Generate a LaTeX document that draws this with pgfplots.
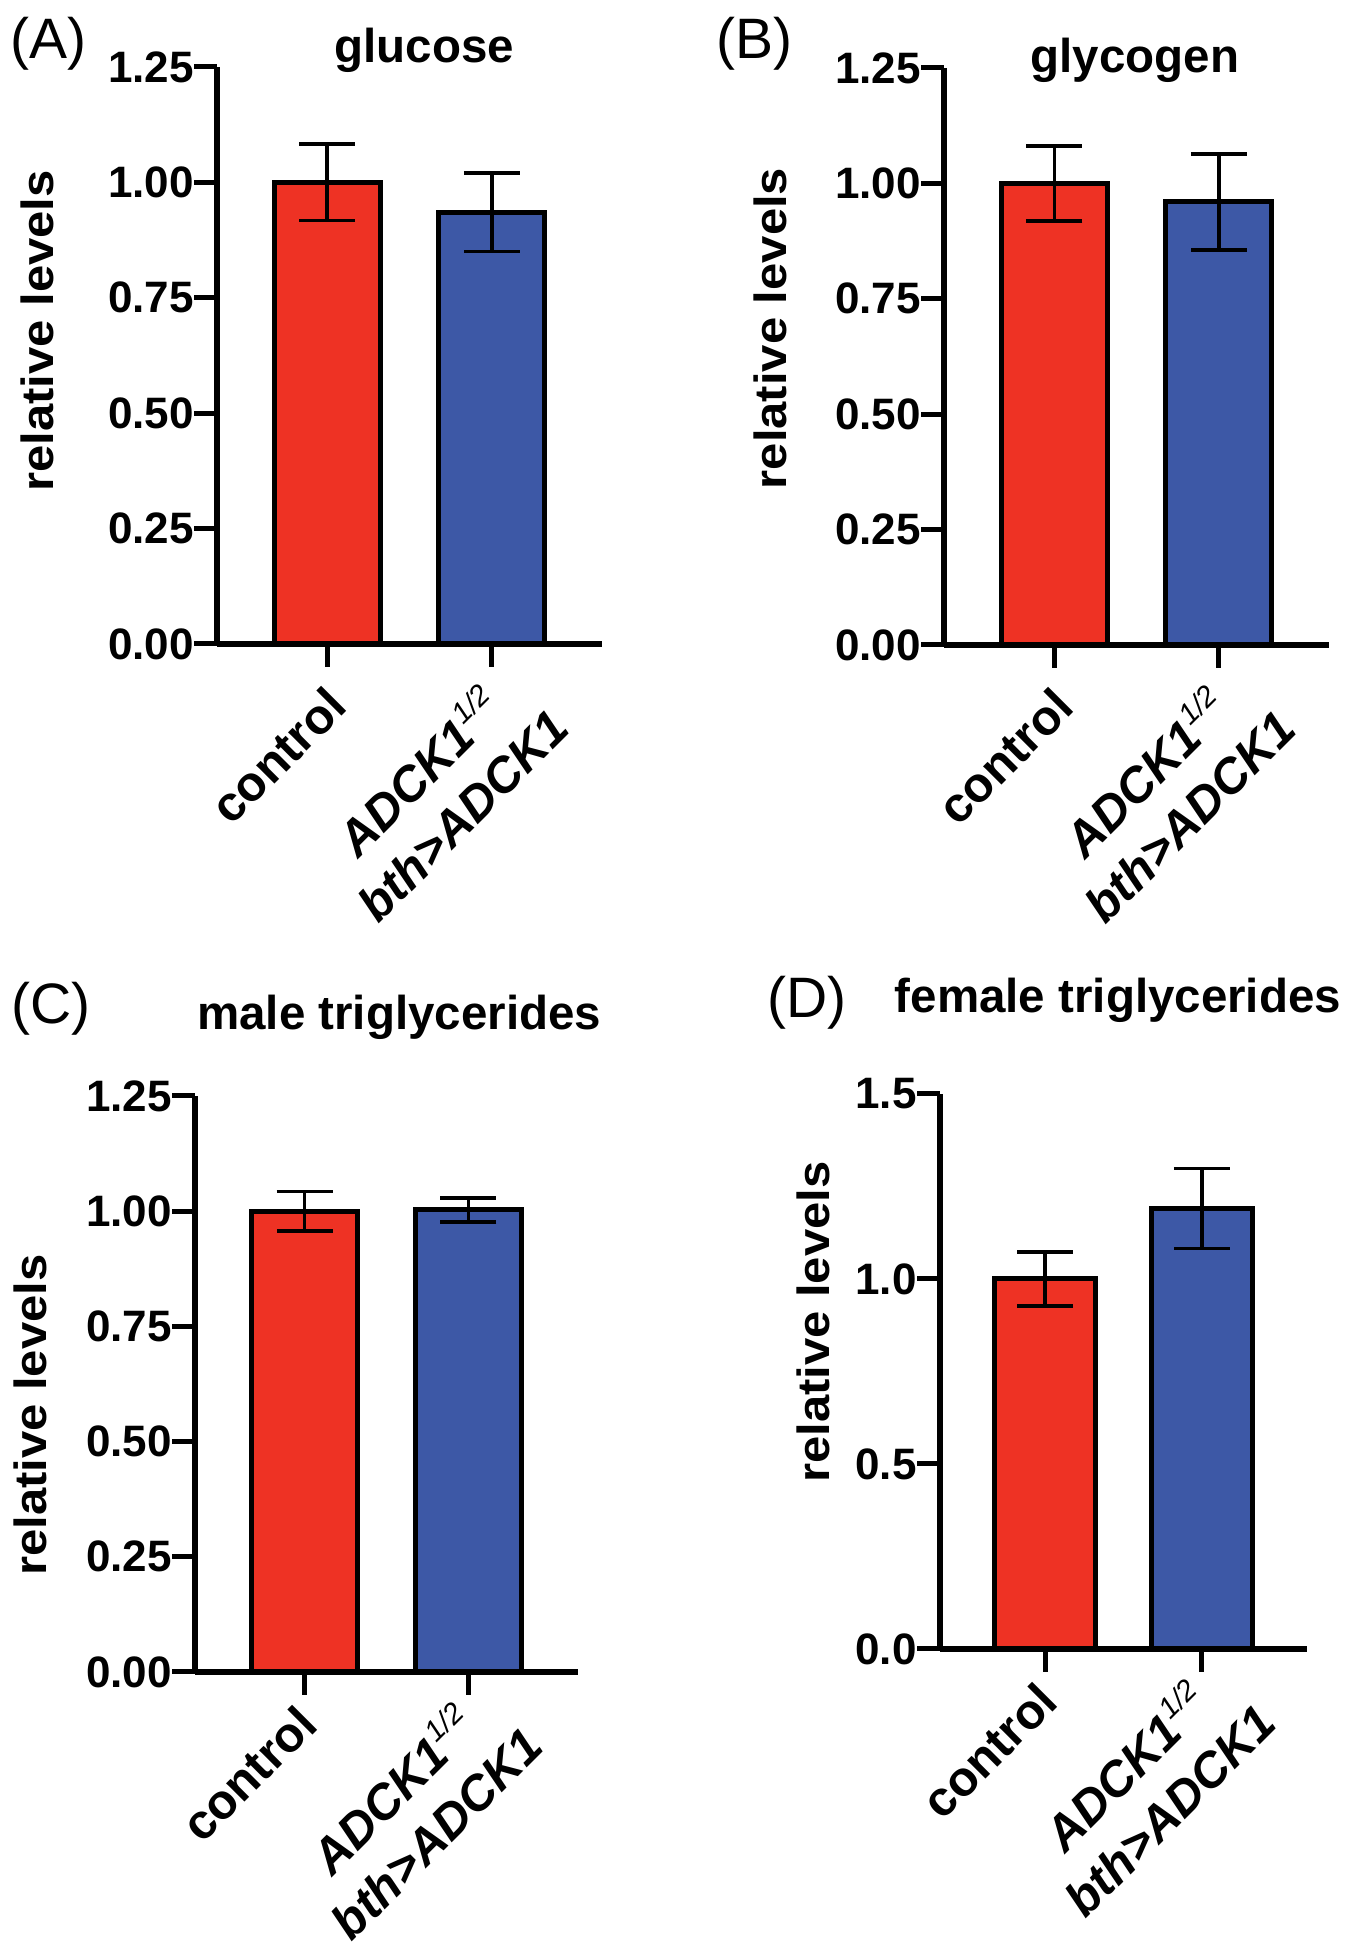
\documentclass[border=0pt]{standalone}
\usepackage{pgfplots}
\pgfplotsset{compat=1.18}
\usepackage{fontspec}
\setmainfont{Liberation Sans}
\usepackage{graphicx}
\definecolor{barred}{RGB}{238,50,36}
\definecolor{barblue}{RGB}{61,88,166}
\newcommand\ticksfont{\fontsize{13.2pt}{15pt}\selectfont\bfseries}
\newcommand\titlefont{\fontsize{14.25pt}{17pt}\selectfont\bfseries}
\newcommand\xlabfont{\fontsize{14.7pt}{18pt}\selectfont\bfseries}
\newcommand\ylab{\scalebox{1}[0.92]{\fontsize{14.7pt}{17pt}\selectfont\bfseries relative levels}}
\newcommand\adck{\textit{ADCK1}\raisebox{0.42em}{\fontsize{8.8pt}{10pt}\selectfont\itshape\mdseries 1/2}\\\textit{bth>ADCK1}}
\tikzset{panellab/.style={anchor=base west, font=\fontsize{17.1pt}{19pt}\selectfont, inner sep=0pt}}
\pgfplotsset{
  cxs/.initial=-1pt, cys/.initial=-5pt, axs/.initial=2.5pt, ays/.initial=2.5pt,
  panel/.style={
    scale only axis, anchor=south west, clip=false,
    xmin=-0.67, xmax=1.67, ymin=0,
    axis x line*=bottom, axis y line*=left,
    axis line style={-, line width=1.6pt, black},
    every tick/.style={black, line width=1.5pt},
    major tick length=6.8pt, tick align=outside,
    xtick={0}, xticklabels={control},
    extra x ticks={1}, extra x tick labels={{\adck}},
    /pgf/number format/assume math mode=true,
    yticklabel style={font=\ticksfont, inner sep=0pt, /pgf/number format/fixed, /pgf/number format/fixed zerofill, /pgf/number format/precision=2},
    xticklabel style={font=\xlabfont, inner sep=0pt, xshift=\pgfkeysvalueof{/pgfplots/cxs}, yshift=\pgfkeysvalueof{/pgfplots/cys}, rotate=45, anchor=north east},
    extra x tick style={every x tick label/.style={font=\xlabfont, inner sep=0pt, align=center, xshift=\pgfkeysvalueof{/pgfplots/axs}, yshift=\pgfkeysvalueof{/pgfplots/ays}, rotate=45, anchor=north east}},
    every axis title shift=0pt,
    title style={font=\titlefont, anchor=base, inner sep=0pt},
    ylabel style={anchor=center, inner sep=0pt},
  },
  bar/.style={ybar, bar width=0.645, bar shift=0pt, draw=black, line width=1.5pt,
    error bars/y dir=both, error bars/y explicit,
    error bars/error bar style={line width=1.05pt, black},
    error bars/error mark options={rotate=90, black, line width=1.05pt, mark size=8.4pt}},
}
\begin{document}
\begin{tikzpicture}
\useasboundingbox (0,0) rectangle (403.8pt,585pt);
% (A) glucose
\begin{axis}[panel, at={(65.1pt,391.8pt)}, width=115.5pt, height=173.1pt,
  ymax=1.25, ytick={0,0.25,0.5,0.75,1,1.25},
  title={glucose}, title style={at={(axis description cs:0.538,1.007)}},
  ylabel={\ylab}, ylabel style={at={(axis description cs:-0.4675,0.5425)}}]
\addplot[bar, fill=barred] coordinates {(0,1.00) +- (0,0.083)};
\addplot[bar, fill=barblue] coordinates {(1,0.935) +- (0,0.085)};
\node[panellab] at (axis description cs:-0.538,1.0139) {(A)};
\end{axis}
% (B) glycogen
\begin{axis}[panel, at={(283.2pt,391.5pt)}, width=115.5pt, height=173.1pt,
  ymax=1.25, ytick={0,0.25,0.5,0.75,1,1.25},
  title={glycogen}, title style={at={(axis description cs:0.496,0.993)}},
  ylabel={\ylab}, ylabel style={at={(axis description cs:-0.452,0.5485)}}]
\addplot[bar, fill=barred] coordinates {(0,1.00) +- (0,0.081)};
\addplot[bar, fill=barblue] coordinates {(1,0.96) +- (0,0.104)};
\node[panellab] at (axis description cs:-0.592,1.0156) {(B)};
\end{axis}
% (C) male triglycerides
\begin{axis}[panel, at={(58.5pt,83.4pt)}, width=114.9pt, height=172.8pt,
  cxs=-3pt, cys=-2pt, axs=1.5pt, ays=5.5pt,
  ymax=1.25, ytick={0,0.25,0.5,0.75,1,1.25},
  title={male triglycerides}, title style={at={(axis description cs:0.533,1.1146)}},
  ylabel={\ylab}, ylabel style={at={(axis description cs:-0.431,0.446)}}]
\addplot[bar, fill=barred] coordinates {(0,1.00) +- (0,0.043)};
\addplot[bar, fill=barblue] coordinates {(1,1.003) +- (0,0.026)};
\node[panellab] at (axis description cs:-0.480,1.1267) {(C)};
\end{axis}
% (D) female triglycerides
\begin{axis}[panel, at={(282pt,90.3pt)}, width=110.1pt, height=166.5pt,
  cxs=-3pt, cys=-2pt, axs=1.5pt, ays=5.5pt,
  ymax=1.5, ytick={0,0.5,1,1.5},
  yticklabel style={/pgf/number format/precision=1},
  title={female triglycerides}, title style={at={(axis description cs:0.485,1.146)}},
  ylabel={\ylab}, ylabel style={at={(axis description cs:-0.346,0.589)}}]
\addplot[bar, fill=barred] coordinates {(0,1.00) +- (0,0.073)};
\addplot[bar, fill=barblue] coordinates {(1,1.19) +- (0,0.108)};
\node[panellab] at (axis description cs:-0.471,1.1387) {(D)};
\end{axis}
\end{tikzpicture}
\end{document}
